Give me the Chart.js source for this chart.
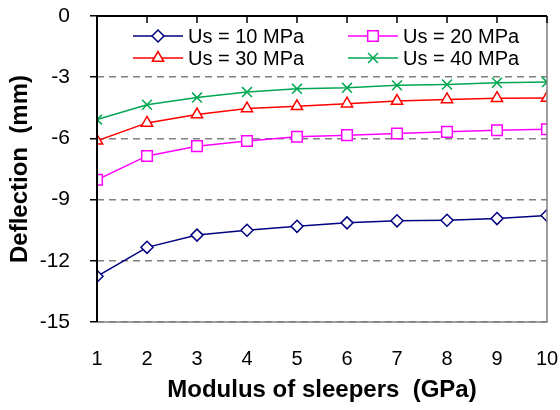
<!DOCTYPE html>
<html>
<head>
<meta charset="utf-8">
<script src="https://cdn.jsdelivr.net/npm/chart.js@4.4.0/dist/chart.umd.min.js"></script>
<style>
  html, body { margin: 0; padding: 0; background: #fff; }
  #wrap { width: 560px; height: 410px; }
</style>
</head>
<body>
<div id="wrap"><canvas id="myChart" width="560" height="410"></canvas></div>
<script>
// modulus of sleepers (GPa)
var modulus = [1, 2, 3, 4, 5, 6, 7, 8, 9, 10];
// deflection (mm) for each soil modulus
var us10 = [-12.76, -11.34, -10.74, -10.50, -10.31, -10.14, -10.04, -10.01, -9.93, -9.78];
var us20 = [-8.03, -6.86, -6.38, -6.13, -5.92, -5.84, -5.76, -5.68, -5.60, -5.55];
var us30 = [-6.12, -5.24, -4.83, -4.54, -4.43, -4.30, -4.17, -4.09, -4.03, -4.02];
var us40 = [-5.08, -4.35, -4.00, -3.73, -3.57, -3.52, -3.40, -3.36, -3.27, -3.24];
var seriesLabels = ['Us = 10 MPa', 'Us = 20 MPa', 'Us = 30 MPa', 'Us = 40 MPa'];
var yTicks = [0, -3, -6, -9, -12, -15];

function pts(vals) {
  return modulus.map(function (m, i) { return { x: m, y: vals[i] }; });
}

var FONT = "'Liberation Sans', Arial, sans-serif";

// frame: black left and top axis, grey right and bottom, inner ticks on top
var framePlugin = {
  id: 'frame',
  afterDraw: function (chart) {
    var c = chart.ctx, a = chart.chartArea, xs = chart.scales.x;
    c.save();
    c.lineWidth = 1.5;
    c.strokeStyle = '#808080';
    c.beginPath();
    c.moveTo(a.right, a.top); c.lineTo(a.right, a.bottom); c.lineTo(a.left, a.bottom);
    c.stroke();
    c.strokeStyle = '#000';
    c.lineWidth = 2;
    c.beginPath();
    c.moveTo(a.left, a.bottom); c.lineTo(a.left, a.top); c.lineTo(a.right, a.top);
    c.stroke();
    c.lineWidth = 1.5;
    xs.ticks.forEach(function (t) {
      var px = xs.getPixelForValue(t.value);
      c.beginPath(); c.moveTo(px, a.top); c.lineTo(px, a.top + 7); c.stroke();
    });
    c.restore();
  }
};

// two-column legend with line + marker samples
var legendPlugin = {
  id: 'lineLegend',
  afterDraw: function (chart) {
    var c = chart.ctx, a = chart.chartArea;
    var cols = [a.left + 36, a.left + 251];
    var rows = [a.top + 20, a.top + 42];
    c.save();
    c.font = '20px ' + FONT;
    c.textBaseline = 'middle';
    chart.data.datasets.forEach(function (ds, i) {
      var x0 = cols[i % 2], y0 = rows[Math.floor(i / 2)];
      c.strokeStyle = ds.borderColor;
      c.lineWidth = ds.borderWidth;
      c.beginPath(); c.moveTo(x0, y0); c.lineTo(x0 + 50, y0); c.stroke();
      c.fillStyle = '#fff';
      Chart.helpers.drawPoint(c, {
        pointStyle: ds.pointStyle, radius: ds.pointRadius, borderWidth: ds.pointBorderWidth, rotation: 0
      }, x0 + 25, y0);
      c.fillStyle = '#000';
      c.fillText(ds.label, x0 + 55, y0 + 1);
    });
    c.restore();
  }
};

var ctx = document.getElementById('myChart').getContext('2d');
var myChart = new Chart(ctx, {
  type: 'line',
  data: {
    datasets: [
      { label: seriesLabels[0], data: pts(us10), borderColor: '#000080', pointStyle: 'rectRot', pointRadius: 6 },
      { label: seriesLabels[1], data: pts(us20), borderColor: '#ff00ff', pointStyle: 'rect', pointRadius: 7.5 },
      { label: seriesLabels[2], data: pts(us30), borderColor: '#ff0000', pointStyle: 'triangle', pointRadius: 6.5 },
      { label: seriesLabels[3], data: pts(us40), borderColor: '#00a651', pointStyle: 'crossRot', pointRadius: 7 }
    ].map(function (d) {
      d.borderWidth = 1.5;
      d.pointBorderWidth = 1.5;
      d.pointBorderColor = d.borderColor;
      d.pointBackgroundColor = '#fff';
      d.pointHoverRadius = d.pointRadius;
      d.fill = false;
      d.tension = 0;
      return d;
    })
  },
  plugins: [framePlugin, legendPlugin],
  options: {
    responsive: false,
    animation: false,
    layout: { padding: { left: 0, top: 16, right: 13, bottom: 0 } },
    plugins: {
      legend: { display: false },
      tooltip: { enabled: false }
    },
    scales: {
      x: {
        type: 'linear',
        min: 1,
        max: 10,
        afterBuildTicks: function (s) { s.ticks = modulus.map(function (v) { return { value: v }; }); },
        afterFit: function (s) { s.height = 88; s.paddingLeft = 0; s.paddingRight = 0; },
        grid: { display: false, drawTicks: false },
        border: { display: false },
        ticks: { color: '#000', padding: 25, font: { family: FONT, size: 20 }, maxRotation: 0 },
        title: {
          display: true,
          text: 'Modulus of sleepers  (GPa)',
          color: '#000',
          font: { family: FONT, size: 24, weight: 'bold' },
          padding: { top: 0, bottom: 5 }
        }
      },
      y: {
        min: -15,
        max: 0,
        afterBuildTicks: function (s) { s.ticks = yTicks.map(function (v) { return { value: v }; }); },
        afterFit: function (s) { s.width = 97; s.paddingTop = 0; s.paddingBottom = 0; },
        grid: { color: '#808080', lineWidth: 1.5, tickColor: '#000', tickLength: 7, tickWidth: 1.5 },
        border: { display: false, dash: [7, 5] },
        ticks: { color: '#000', padding: 20, font: { family: FONT, size: 21 } },
        title: {
          display: true,
          text: 'Deflection  (mm)',
          color: '#000',
          font: { family: FONT, size: 24, weight: 'bold' },
          padding: { top: 6, bottom: 0 }
        }
      }
    }
  }
});
</script>
</body>
</html>
